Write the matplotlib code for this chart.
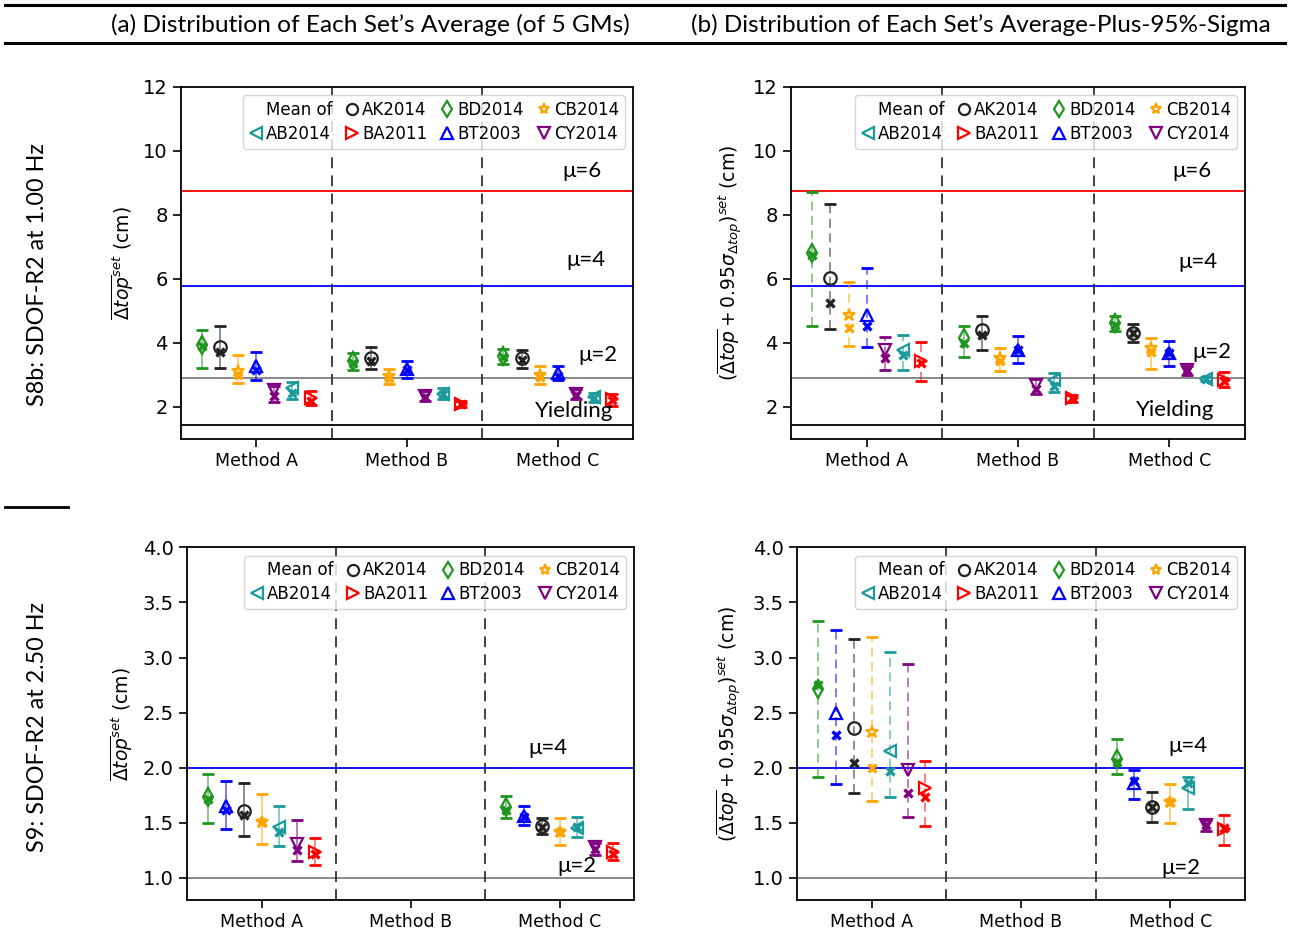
import numpy as np
import matplotlib
matplotlib.use("Agg")
import matplotlib.pyplot as plt
from matplotlib.lines import Line2D

plt.rcParams["font.family"] = ["DejaVu Sans"]

# ---------------- data ----------------
methods = ["Method A", "Method B", "Method C"]
legend_models = ["AB2014", "AK2014", "BA2011", "BD2014", "BT2003", "CB2014", "CY2014"]
model_marker = {"AK2014": "o", "BD2014": "d", "CB2014": "*", "AB2014": "<",
                "BA2011": ">", "BT2003": "^", "CY2014": "v"}
model_color = {"AK2014": "#222222", "BD2014": "#1f961f", "CB2014": "orange",
               "AB2014": "#1a9a9a", "BA2011": "red", "BT2003": "blue",
               "CY2014": "purple"}

order_top = ["BD2014", "AK2014", "CB2014", "BT2003", "CY2014", "AB2014", "BA2011"]
order_bot = ["BD2014", "BT2003", "AK2014", "CB2014", "AB2014", "CY2014", "BA2011"]
nan7 = [np.nan] * 7

# top-left: set average (S8b)
tl_mean = [[3.95, 3.86, 3.11, 3.27, 2.53, 2.58, 2.27],
           [3.42, 3.53, 2.97, 3.20, 2.35, 2.42, 2.10],
           [3.58, 3.52, 3.00, 3.05, 2.40, 2.30, 2.25]]
tl_med = [[3.90, 3.72, 3.00, 3.16, 2.34, 2.45, 2.20],
          [3.36, 3.45, 2.90, 3.15, 2.32, 2.40, 2.10],
          [3.55, 3.48, 2.95, 2.97, 2.38, 2.28, 2.22]]
tl_lo = [[3.23, 3.23, 2.74, 2.85, 2.14, 2.24, 2.06],
         [3.14, 3.18, 2.72, 2.91, 2.19, 2.26, 1.99],
         [3.35, 3.21, 2.72, 2.85, 2.24, 2.14, 2.03]]
tl_hi = [[4.39, 4.52, 3.62, 3.71, 2.64, 2.78, 2.51],
         [3.68, 3.86, 3.20, 3.45, 2.51, 2.58, 2.20],
         [3.81, 3.77, 3.29, 3.27, 2.55, 2.45, 2.41]]

# top-right: average plus 95% sigma (S8b)
tr_mean = [[6.82, 6.03, 4.88, 4.88, 3.79, 3.79, 3.42],
           [4.15, 4.39, 3.53, 3.79, 2.69, 2.85, 2.27],
           [4.62, 4.31, 3.84, 3.68, 3.16, 2.87, 2.85]]
tr_med = [[6.75, 5.25, 4.47, 4.52, 3.53, 3.63, 3.37],
          [4.00, 4.24, 3.45, 3.79, 2.55, 2.65, 2.27],
          [4.55, 4.31, 3.73, 3.68, 3.16, 2.87, 2.80]]
tr_lo = [[4.54, 4.43, 3.91, 3.87, 3.14, 3.16, 2.80],
         [3.55, 3.77, 3.11, 3.37, 2.40, 2.48, 2.15],
         [4.38, 4.02, 3.18, 3.27, 3.00, 2.80, 2.62]]
tr_hi = [[8.70, 8.34, 5.90, 6.35, 4.18, 4.26, 4.02],
         [4.52, 4.83, 3.84, 4.23, 2.87, 3.06, 2.38],
         [4.83, 4.60, 4.15, 4.05, 3.27, 2.93, 3.09]]

# bottom-left: set average (S9)
bl_mean = [[1.73, 1.65, 1.61, 1.51, 1.46, 1.31, 1.24], nan7,
           [1.64, 1.56, 1.47, 1.42, 1.45, 1.28, 1.24]]
bl_med = [[1.72, 1.62, 1.57, 1.51, 1.42, 1.25, 1.22], nan7,
          [1.62, 1.55, 1.46, 1.42, 1.46, 1.26, 1.22]]
bl_lo = [[1.50, 1.44, 1.38, 1.31, 1.29, 1.15, 1.12], nan7,
         [1.54, 1.48, 1.40, 1.30, 1.37, 1.21, 1.16]]
bl_hi = [[1.94, 1.88, 1.86, 1.76, 1.65, 1.53, 1.36], nan7,
         [1.74, 1.65, 1.54, 1.54, 1.55, 1.32, 1.32]]

# bottom-right: average plus 95% sigma (S9)
br_mean = [[2.71, 2.50, 2.36, 2.32, 2.15, 1.98, 1.82], nan7,
           [2.08, 1.86, 1.64, 1.69, 1.82, 1.48, 1.44]]
br_med = [[2.75, 2.30, 2.04, 2.00, 1.97, 1.77, 1.73], nan7,
          [2.05, 1.88, 1.64, 1.69, 1.86, 1.48, 1.45]]
br_lo = [[1.92, 1.85, 1.77, 1.70, 1.73, 1.55, 1.47], nan7,
         [1.94, 1.72, 1.51, 1.50, 1.63, 1.43, 1.30]]
br_hi = [[3.33, 3.25, 3.17, 3.19, 3.05, 2.94, 2.06], nan7,
         [2.26, 1.98, 1.78, 1.85, 1.92, 1.53, 1.57]]

# reference levels
top_levels = {"Yielding": 1.44, "μ=2": 2.89, "μ=4": 5.79, "μ=6": 8.74}
bot_levels = {"μ=2": 1.0, "μ=4": 2.0}
level_color = {"Yielding": "black", "μ=2": "gray", "μ=4": "blue", "μ=6": "red"}

# ---------------- figure ----------------
W, H = 1290, 935
fig = plt.figure(figsize=(W / 100, H / 100), dpi=100)


def text_font():
    return ["Lato", "DejaVu Sans"]


def ax_rect(x0, x1, y0, y1):
    return [x0 / W, 1 - y1 / H, (x1 - x0) / W, (y1 - y0) / H]


ax_tl = fig.add_axes(ax_rect(181, 633, 86.7, 439))
ax_tr = fig.add_axes(ax_rect(791, 1245, 86.7, 439))
ax_bl = fig.add_axes(ax_rect(187, 634, 547.3, 900))
ax_br = fig.add_axes(ax_rect(797, 1245, 547.3, 900))

ylab_avg = r"$\overline{\Delta top}^{set}$ (cm)"
ylab_sig = r"$(\overline{\Delta top} + 0.95\sigma_{\Delta top})^{set}$ (cm)"

panels = [
    (ax_tl, order_top, tl_mean, tl_med, tl_lo, tl_hi, (1.0, 12.0), [2, 4, 6, 8, 10, 12],
     top_levels, False, ylab_avg,
     {"μ=6": (2.16, 9.37), "μ=4": (2.19, 6.58), "μ=2": (2.27, 3.62), "Yielding": (2.11, 1.87)}),
    (ax_tr, order_top, tr_mean, tr_med, tr_lo, tr_hi, (1.0, 12.0), [2, 4, 6, 8, 10, 12],
     top_levels, True, ylab_sig,
     {"μ=6": (2.15, 9.37), "μ=4": (2.19, 6.52), "μ=2": (2.28, 3.71), "Yielding": (2.04, 1.90)}),
    (ax_bl, order_bot, bl_mean, bl_med, bl_lo, bl_hi, (0.8, 4.0), [1.0, 1.5, 2.0, 2.5, 3.0, 3.5, 4.0],
     bot_levels, False, ylab_avg,
     {"μ=4": (1.92, 2.18), "μ=2": (2.12, 1.11)}),
    (ax_br, order_bot, br_mean, br_med, br_lo, br_hi, (0.8, 4.0), [1.0, 1.5, 2.0, 2.5, 3.0, 3.5, 4.0],
     bot_levels, True, ylab_sig,
     {"μ=4": (2.12, 2.20), "μ=2": (2.07, 1.09)}),
]

step = 0.12
for (ax, order, mean, med, lo, hi, ylim, yticks, levels, dashA, ylab, lvl_txt) in panels:
    for name, val in levels.items():
        ax.axhline(val, color=level_color[name], lw=1.3, zorder=1)
    for xv in [0.5, 1.5]:
        ax.axvline(xv, color="#333333", lw=1.3, ls=(0, (6, 4)), zorder=1)
    for mi in range(3):
        for k, model in enumerate(order):
            c = model_color[model]
            xk = mi + (k - 3) * step
            m = mean[mi][k]
            if np.isnan(m):
                continue
            eb = ax.errorbar([xk], [m], yerr=[[m - lo[mi][k]], [hi[mi][k] - m]],
                             fmt="none", ecolor=c, elinewidth=1.3, capsize=4.5,
                             capthick=2.0, zorder=2)
            for bl in eb[2]:
                bl.set_alpha(0.55)
                if dashA and mi == 0:
                    bl.set_linestyle((0, (5, 3)))
            ax.plot([xk], [m], linestyle="none", marker=model_marker[model],
                    markersize=9, markerfacecolor="none", markeredgecolor=c,
                    markeredgewidth=1.6, zorder=3)
            ax.plot([xk], [med[mi][k]], linestyle="none", marker="x",
                    markersize=6, markeredgecolor=c, markeredgewidth=2.4,
                    zorder=3)
    for name, (tx, ty) in lvl_txt.items():
        ax.text(tx, ty, name, fontsize=16, ha="center", va="center",
                family=text_font(), zorder=4)
    ax.set_xlim(-0.5, 2.5)
    ax.set_ylim(*ylim)
    ax.set_xticks([0, 1, 2])
    ax.set_xticklabels(methods, fontsize=12.5, family="DejaVu Sans")
    ax.set_yticks(yticks)
    if ylim[1] < 5:
        ax.set_yticklabels([f"{v:.1f}" for v in yticks], family="DejaVu Sans")
    else:
        ax.set_yticklabels([f"{v:d}" for v in yticks], family="DejaVu Sans")
    ax.tick_params(axis="y", labelsize=14, length=6, width=1.2)
    ax.tick_params(axis="x", length=6, width=1.2)
    for s in ax.spines.values():
        s.set_linewidth(1.3)
    ax.set_ylabel(ylab, fontsize=13.5, labelpad=6, family="DejaVu Sans")

    handles = [Line2D([], [], linestyle="none", marker=None, color="none")]
    labels = ["Mean of"]
    for model in legend_models:
        handles.append(Line2D([], [], linestyle="none", marker=model_marker[model],
                              markersize=8, markerfacecolor="none",
                              markeredgecolor=model_color[model], markeredgewidth=1.6))
        labels.append(model)
    ax.legend(handles, labels, loc="upper right", ncol=4,
              prop={"family": "DejaVu Sans", "size": 12},
              handlelength=0.8, handletextpad=0.2, columnspacing=0.8,
              labelspacing=0.35, borderpad=0.35, borderaxespad=0.5)

# ---------------- outer annotations ----------------
fig.add_artist(Line2D([5 / W, 1285 / W], [1 - 5 / H, 1 - 5 / H], color="black", lw=2.2))
fig.add_artist(Line2D([5 / W, 1285 / W], [1 - 43 / H, 1 - 43 / H], color="black", lw=2.2))
fig.add_artist(Line2D([5 / W, 68 / W], [1 - 507 / H, 1 - 507 / H], color="black", lw=2.0))

t1 = fig.text(370 / W, 1 - 25 / H, "(a) Distribution of Each Set’s Average (of 5 GMs)",
              ha="center", va="center", fontsize=16, family=text_font())
t2 = fig.text(981 / W, 1 - 25 / H, "(b) Distribution of Each Set’s Average-Plus-95%-Sigma",
              ha="center", va="center", fontsize=16, family=text_font())
r1 = fig.text(38 / W, 1 - 275 / H, "S8b: SDOF-R2 at 1.00 Hz", rotation=90,
              ha="center", va="center", fontsize=16, family=text_font())
r2 = fig.text(38 / W, 1 - 727 / H, "S9: SDOF-R2 at 2.50 Hz", rotation=90,
              ha="center", va="center", fontsize=16, family=text_font())

# fit text sizes to the reference widths
fig.canvas.draw()
rend = fig.canvas.get_renderer()
for t, target, vertical in [(t1, 520, False), (t2, 582, False), (r1, 263, True)]:
    bb = t.get_window_extent(rend)
    cur = bb.height if vertical else bb.width
    t.set_fontsize(t.get_fontsize() * target / cur)
r2.set_fontsize(r1.get_fontsize())

fig.savefig("out.png", dpi=100)
